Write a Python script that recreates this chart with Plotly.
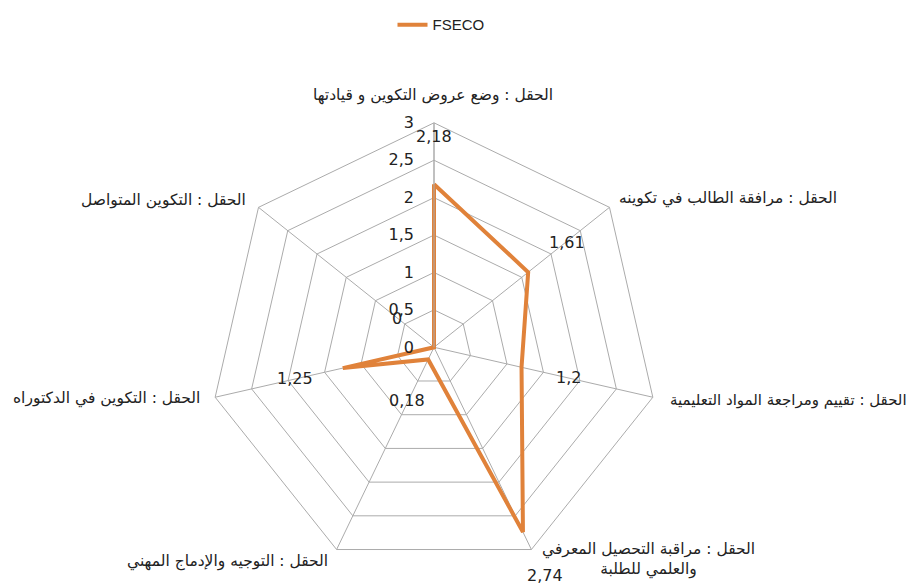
import math
import plotly.graph_objects as go

categories = [
    "الحقل : وضع عروض التكوين و قيادتها",
    "الحقل : مرافقة الطالب في تكوينه",
    "الحقل : تقييم ومراجعة المواد التعليمية",
    "الحقل : مراقبة التحصيل المعرفي<br>والعلمي للطلبة",
    "الحقل : التوجيه والإدماج المهني",
    "الحقل : التكوين في الدكتوراه",
    "الحقل : التكوين المتواصل",
]
values = [2.18, 1.61, 1.2, 2.74, 0.18, 1.25, 0]
value_labels = ["2,18", "1,61", "1,2", "2,74", "0,18", "1,25", "0"]
series_name = "FSECO"
radial_ticks = [0, 0.5, 1, 1.5, 2, 2.5, 3]
radial_ticktext = ["0", "0,5", "1", "1,5", "2", "2,5", "3"]

# layout-only: where the category labels sit (window pixels) and their anchors
cat_label_pos = [
    (433, 88, "center"),
    (839, 192, "right"),
    (668, 397, "left"),
    (540, 559, "left"),
    (330, 561, "right"),
    (202, 396, "right"),
    (248, 194, "right"),
]

# the page body has an 8px margin; the figure is sized to fit inside the window
OFF = 8
W, H = 911, 580
orange = "#E0823A"
grid = "#ABABAB"
num_font = "DejaVu Sans"
label_offset = 0.6          # data labels sit this far (in axis units) beyond the point
# polar geometry in window pixels (follows from the domain below)
CX, CY, UNIT = 433.5, 343.5, 77.0


def px2paper(sx, sy):
    return (sx - OFF) / W, 1 - (sy - OFF) / H


def dom(a, b, size):
    return [(a - OFF) / size, (b - OFF) / size]


# polar domain in window pixels: x 206..662, y 115.5..571.5
dx = dom(206, 662, W)
dy_top, dy_bot = dom(115.5, 571.5, H)
domain_y = [1 - dy_bot, 1 - dy_top]

fig = go.Figure()
fig.add_trace(go.Scatterpolar(
    r=values + [values[0]],
    theta=categories + [categories[0]],
    mode="lines",
    line=dict(color=orange, width=4),
    name=series_name,
    showlegend=True,
    hoverinfo="r+theta",
))

annotations = []
for i, (cat, (sx, sy, anchor)) in enumerate(zip(categories, cat_label_pos)):
    x, y = px2paper(sx, sy)
    annotations.append(dict(
        text=cat, x=x, y=y, xref="paper", yref="paper",
        xanchor=anchor, yanchor="middle", showarrow=False, align="center",
        font=dict(family="DejaVu Sans", size=15 if i == 2 else 15.5, color="#222222"),
    ))

n = len(values)
for i, (v, lab) in enumerate(zip(values, value_labels)):
    a = 2 * math.pi * i / n
    rr = (v + label_offset) * UNIT
    sx = CX + rr * math.sin(a)
    sy = min(CY - rr * math.cos(a), 576)
    x, y = px2paper(sx, sy)
    annotations.append(dict(
        text=lab, x=x, y=y, xref="paper", yref="paper",
        xanchor="center", yanchor="middle", showarrow=False,
        font=dict(family=num_font, size=16, color="#222222"),
    ))

lx, ly = px2paper(441, 16)
fig.update_layout(
    width=W, height=H,
    margin=dict(l=0, r=0, t=0, b=0),
    paper_bgcolor="white",
    plot_bgcolor="white",
    separators=", ",
    annotations=annotations,
    legend=dict(
        orientation="h", x=lx, xanchor="center", y=ly, yanchor="middle",
        font=dict(family="Liberation Sans, Arial", size=15, color="#222222"),
    ),
    polar=dict(
        domain=dict(x=dx, y=domain_y),
        bgcolor="white",
        gridshape="linear",
        angularaxis=dict(
            type="category",
            rotation=90,
            direction="clockwise",
            showline=True,
            linecolor=grid,
            linewidth=1,
            gridcolor=grid,
            gridwidth=1,
            ticks="",
            showticklabels=False,
        ),
        radialaxis=dict(
            range=[0, 3],
            angle=90,
            tickangle=90,
            side="counterclockwise",
            tickvals=radial_ticks,
            ticktext=radial_ticktext,
            showline=True,
            linecolor=grid,
            gridcolor=grid,
            gridwidth=1,
            ticks="outside",
            ticklen=14,
            tickcolor="rgba(0,0,0,0)",
            tickfont=dict(family=num_font, size=16, color="#222222"),
        ),
    ),
)

fig.write_html("out.html")
